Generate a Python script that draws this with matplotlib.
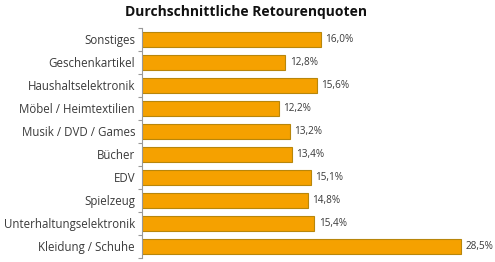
import numpy as np
import matplotlib.pyplot as plt

# data (top to bottom as shown)
categories = ['Sonstiges', 'Geschenkartikel', 'Haushaltselektronik', 'Möbel / Heimtextilien',
              'Musik / DVD / Games', 'Bücher', 'EDV', 'Spielzeug',
              'Unterhaltungselektronik', 'Kleidung / Schuhe']
values = [16.0, 12.8, 15.6, 12.2, 13.2, 13.4, 15.1, 14.8, 15.4, 28.5]

plt.rcParams['font.family'] = ['Open Sans', 'DejaVu Sans']

fig = plt.figure(figsize=(4.95, 2.62), dpi=100)
ax = fig.add_axes([142 / 495, 4 / 262, 353 / 495, 230 / 262])

y = np.arange(len(categories))
ax.barh(y, values, height=0.66, color='#F5A100', edgecolor='#B8860B', linewidth=0.8)

for yi, v in zip(y, values):
    ax.text(v + 0.4, yi, '{:.1f}%'.format(v).replace('.', ','), va='center', ha='left',
            fontsize=7.2, color='#3a3a3a')

ax.set_xlim(0, 353 / 11.19)
ax.set_ylim(len(categories) - 0.5, -0.5)
ax.set_yticks(y)
ax.set_yticklabels(categories, fontsize=8.3, color='#3a3a3a')
ax.tick_params(axis='y', which='major', length=0, pad=5)
ax.set_yticks(np.arange(-0.5, len(categories)), minor=True)
ax.tick_params(axis='y', which='minor', length=3, color='#999999', width=0.8)
ax.set_xticks([])
for s in ['top', 'right', 'bottom']:
    ax.spines[s].set_visible(False)
ax.spines['left'].set_color('#999999')
ax.spines['left'].set_linewidth(0.8)

fig.text(0.497, 0.955, 'Durchschnittliche Retourenquoten', ha='center', va='center',
         fontsize=10, fontweight='bold', color='#111111')

fig.savefig('out.png', dpi=100)
